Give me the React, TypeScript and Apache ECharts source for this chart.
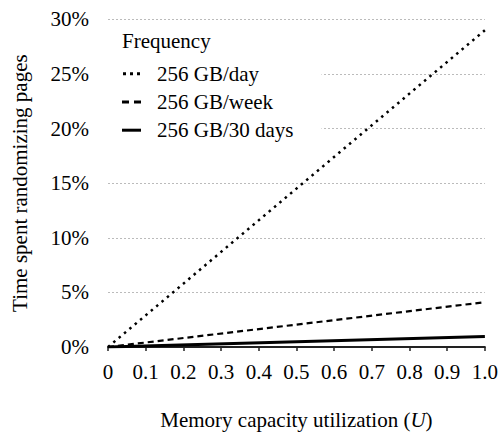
import React, { useEffect, useRef } from "react";
import * as echarts from "echarts";

const xValues = [0, 1.0];
const perDay = [0, 29.0];
const perWeek = [0, 4.1];
const per30Days = [0, 0.95];
const seriesNames = ["256 GB/day", "256 GB/week", "256 GB/30 days"];
const legendTitle = "Frequency";
const xTitle = "Memory capacity utilization ({i|U})";
const yTitle = "Time spent randomizing pages";

const FONT = "Times New Roman";
const FS = 21;

const legendIcons = [
  "path://M0,0h3v3h-3z M7,0h3v3h-3z M14,0h3v3h-3z",
  "path://M0,0h7v3h-7z M12,0h7v3h-7z",
  "path://M0,0h19v3h-19z",
];

const pairs = (ys: number[]) => xValues.map((x, i) => [x, ys[i]]);

export default function App() {
  const ref = useRef<HTMLDivElement>(null);
  useEffect(() => {
    if (!ref.current) return;
    const chart = echarts.init(ref.current, null, { renderer: "svg" });
    chart.setOption({
      animation: false,
      grid: { left: 108, right: 14.3, top: 19.3, bottom: 81.7 },
      xAxis: {
        type: "value",
        min: 0,
        max: 1,
        interval: 0.1,
        name: xTitle,
        nameLocation: "middle",
        nameGap: 62,
        nameTextStyle: {
          fontFamily: FONT,
          fontSize: FS,
          color: "#000",
          rich: { i: { fontFamily: FONT, fontSize: FS, fontStyle: "italic", color: "#000" } },
        },
        axisLine: { show: true, lineStyle: { color: "#222", width: 2 } },
        axisTick: { show: true, length: 4, lineStyle: { color: "#222", width: 1.5 } },
        axisLabel: {
          fontFamily: FONT,
          fontSize: FS,
          color: "#000",
          margin: 14,
          formatter: (v: number) => (v === 0 ? "0" : v.toFixed(1)),
        },
        splitLine: { show: false },
      },
      yAxis: {
        type: "value",
        min: 0,
        max: 30,
        interval: 5,
        name: yTitle,
        nameLocation: "middle",
        nameGap: 78,
        nameTextStyle: { fontFamily: FONT, fontSize: FS, color: "#000" },
        axisLine: { show: false },
        axisTick: { show: false },
        axisLabel: {
          fontFamily: FONT,
          fontSize: FS,
          color: "#000",
          margin: 19,
          formatter: "{value}%",
        },
        splitLine: { show: true, lineStyle: { color: "#bbbbbb", width: 1, type: [2, 2] } },
      },
      legend: {
        orient: "vertical",
        left: 108,
        top: 24,
        padding: [39.3, 28, 12, 14],
        backgroundColor: "#fff",
        itemWidth: 19,
        itemHeight: 3,
        itemGap: 7.2,
        data: seriesNames.map((n, i) => ({ name: n, icon: legendIcons[i] })),
        itemStyle: { color: "#000" },
        textStyle: {
          fontFamily: FONT,
          fontSize: FS,
          color: "#000",
          lineHeight: 20,
          padding: [0, 0, 0, 11],
        },
      },
      graphic: [
        {
          type: "text",
          left: 122,
          top: 30,
          z: 100,
          style: { text: legendTitle, fontFamily: FONT, fontSize: FS, fill: "#000" },
        },
      ],
      series: [
        {
          name: seriesNames[0],
          type: "line",
          data: pairs(perDay),
          symbol: "none",
          itemStyle: { color: "#000" },
          lineStyle: { color: "#000", width: 2.5, type: [2.5, 4.5] },
        },
        {
          name: seriesNames[1],
          type: "line",
          data: pairs(perWeek),
          symbol: "none",
          itemStyle: { color: "#000" },
          lineStyle: { color: "#000", width: 2.2, type: [6, 4] },
        },
        {
          name: seriesNames[2],
          type: "line",
          data: pairs(per30Days),
          symbol: "none",
          itemStyle: { color: "#000" },
          lineStyle: { color: "#000", width: 3 },
        },
      ],
    });
    return () => chart.dispose();
  }, []);
  return (
    <div
      ref={ref}
      style={{ width: 501, height: 435, position: "absolute", left: 0, top: 0 }}
    />
  );
}
